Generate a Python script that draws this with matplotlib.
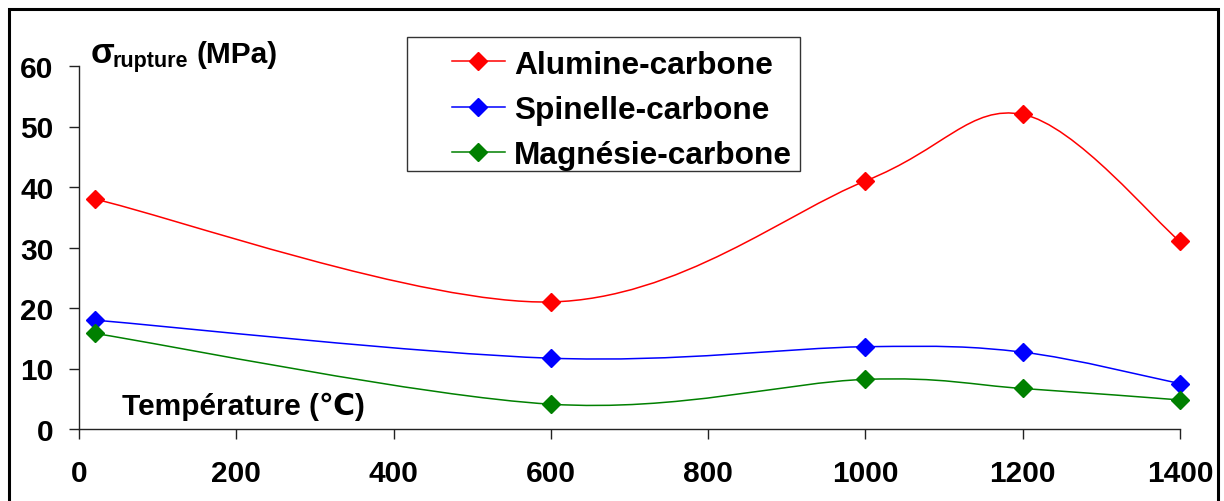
import matplotlib
matplotlib.use("Agg")
import matplotlib.pyplot as plt
from matplotlib.path import Path
from matplotlib.patches import PathPatch, Rectangle
from matplotlib.lines import Line2D

# Breaking strength versus temperature for three refractory families
temperature = [20, 600, 1000, 1200, 1400]
alumine_carbone = [38.0, 21.0, 41.0, 52.0, 31.0]
spinelle_carbone = [18.0, 11.7, 13.6, 12.7, 7.5]
magnesie_carbone = [15.8, 4.1, 8.2, 6.7, 4.8]

series_names = ["Alumine-carbone", "Spinelle-carbone", "Magnésie-carbone"]
series_colors = ["#FF0000", "#0000FF", "#008000"]

x_ticks = [0, 200, 400, 600, 800, 1000, 1200, 1400]
y_ticks = [0, 10, 20, 30, 40, 50, 60]

W, H = 1224, 502
FONT = ["Liberation Sans", "DejaVu Sans"]
plt.rcParams["font.family"] = FONT
plt.rcParams["font.weight"] = "bold"

fig = plt.figure(figsize=(W / 100, H / 100), dpi=100)
fig.patch.set_facecolor("white")


def fx(px):
    return px / W


def fy(py):
    return 1 - py / H


# chart frame around the plot
fig.patches.append(Rectangle((fx(9), fy(520)), fx(1218) - fx(9), fy(10) - fy(520),
                             transform=fig.transFigure, fill=False,
                             edgecolor="black", linewidth=2.2, zorder=0))

ax = fig.add_axes([fx(79), fy(430), fx(1180) - fx(79), fy(67) - fy(430)])
ax.set_xlim(0, 1400)
ax.set_ylim(0, 60)
ax.patch.set_alpha(0)
for side in ("top", "right"):
    ax.spines[side].set_visible(False)
for side in ("left", "bottom"):
    ax.spines[side].set_linewidth(1.0)
    ax.spines[side].set_color("#222222")

ax.set_xticks(x_ticks)
ax.set_yticks(y_ticks)
ax.tick_params(axis="both", direction="out", length=7.5, width=1.0,
               color="#222222", labelsize=21.5)
ax.tick_params(axis="x", pad=14)
ax.tick_params(axis="y", pad=11)
for lab in ax.get_xticklabels() + ax.get_yticklabels():
    lab.set_fontweight("bold")


def smooth_path(xs, ys):
    """Cubic Bezier path through the points (spreadsheet-style smoothing)."""
    pts = list(zip(xs, ys))
    n = len(pts)
    verts = [pts[0]]
    codes = [Path.MOVETO]
    for i in range(n - 1):
        p0 = pts[i - 1] if i > 0 else pts[i]
        p1 = pts[i]
        p2 = pts[i + 1]
        p3 = pts[i + 2] if i + 2 < n else pts[i + 1]
        c1 = (p1[0] + (p2[0] - p0[0]) / 6, p1[1] + (p2[1] - p0[1]) / 6)
        c2 = (p2[0] - (p3[0] - p1[0]) / 6, p2[1] - (p3[1] - p1[1]) / 6)
        verts += [c1, c2, p2]
        codes += [Path.CURVE4] * 3
    return Path(verts, codes)


LW = 1.1
MS = 9
for values, color in zip([alumine_carbone, spinelle_carbone, magnesie_carbone],
                         series_colors):
    ax.add_patch(PathPatch(smooth_path(temperature, values), fill=False,
                           edgecolor=color, linewidth=LW, zorder=2))
    ax.plot(temperature, values, linestyle="none", marker="D", markersize=MS,
            color=color, zorder=3, clip_on=False)

# legend box, laid out in figure pixels
fig.patches.append(Rectangle((fx(407), fy(172)), fx(800) - fx(407), fy(38) - fy(172),
                             transform=fig.transFigure, fill=True, facecolor="white",
                             edgecolor="#333333", linewidth=1.0, zorder=4))
for k, (name, color) in enumerate(zip(series_names, series_colors)):
    yc = fy(62 + 45.5 * k)
    fig.add_artist(Line2D([fx(452), fx(505)], [yc, yc], color=color,
                          linewidth=LW, transform=fig.transFigure, zorder=5))
    fig.add_artist(Line2D([fx(478)], [yc], color=color, marker="D",
                          markersize=MS, linestyle="none",
                          transform=fig.transFigure, zorder=6))
    fig.text(fx(514), yc, name, fontsize=22.8, fontweight="bold",
             va="center_baseline", ha="left", zorder=6)

# y-axis title: sigma with subscript, then units
fig.text(fx(91), fy(63), "σ", fontsize=25, fontweight="bold", va="baseline")
fig.text(fx(113), fy(67), "rupture", fontsize=15.5, fontweight="bold", va="baseline")
fig.text(fx(197), fy(63), "(MPa)", fontsize=21.5, fontweight="bold", va="baseline")

# x-axis title inside the plot
fig.text(fx(122), fy(415), "Température (℃)", fontsize=21.5, fontweight="bold",
         va="baseline", family=FONT)

fig.savefig("out.png", dpi=100, facecolor="white")
